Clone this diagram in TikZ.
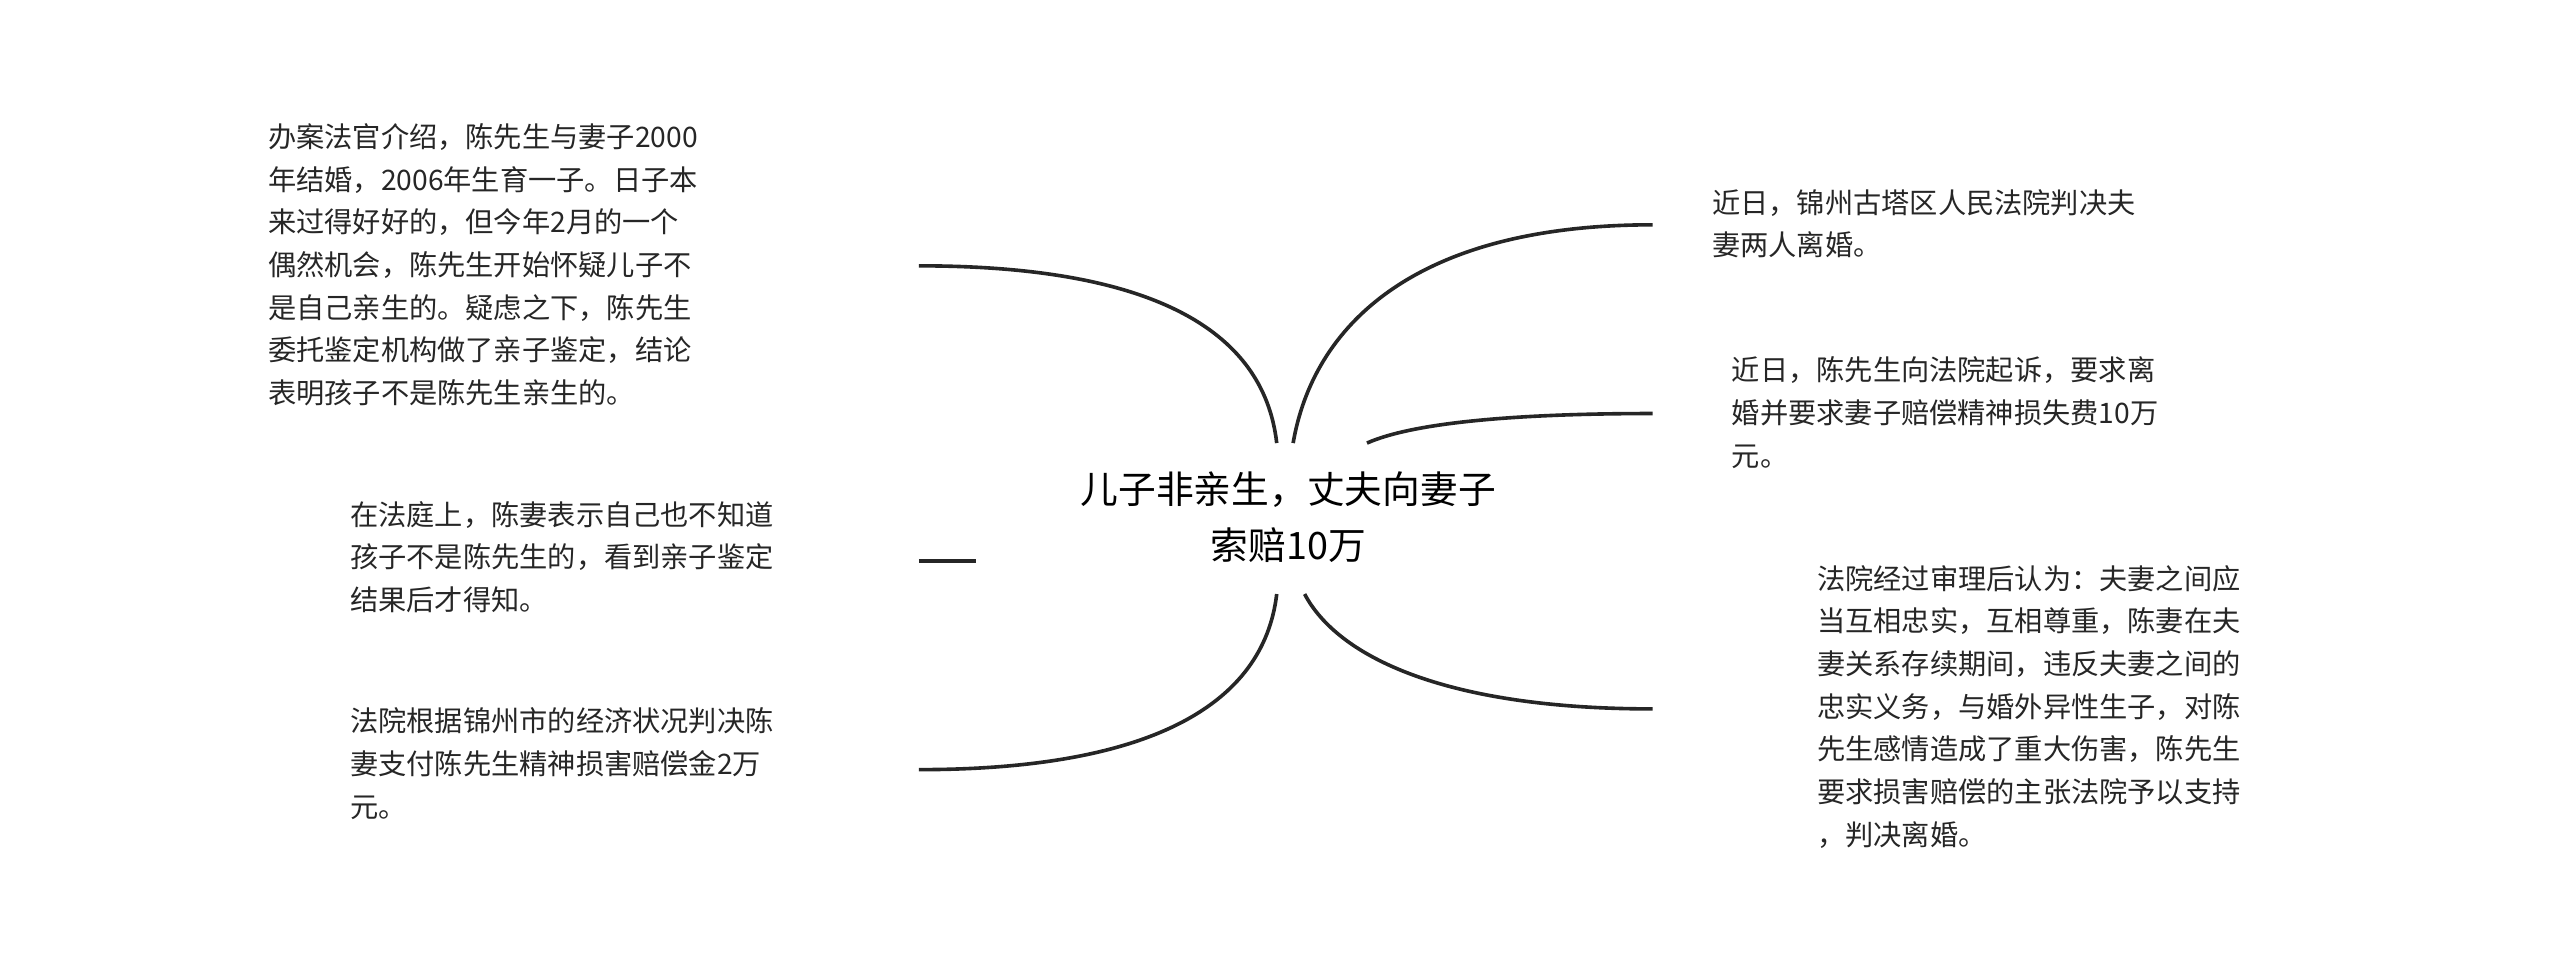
\documentclass[tikz,border=0pt]{standalone}
\usepackage{fontspec}
\setmainfont{Noto Sans CJK SC}
\begin{document}
\begin{tikzpicture}[x=0.5pt,y=-0.5pt,
  txt/.style={anchor=north west,inner sep=0pt,align=left,font=\fontsize{8.6}{13}\selectfont,text=black!85},
  br/.style={draw=black!85,line width=1.1pt}]
\useasboundingbox[fill=white] (0,0) rectangle (1560,592);
\node[inner sep=0pt,align=center,font=\fontsize{11.5}{17}\selectfont] (c) at (785,315) {儿子非亲生，丈夫向妻子\\索赔10万};
\node[txt] (t1) at (163,75) {办案法官介绍，陈先生与妻子2000\\年结婚，2006年生育一子。日子本\\来过得好好的，但今年2月的一个\\偶然机会，陈先生开始怀疑儿子不\\是自己亲生的。疑虑之下，陈先生\\委托鉴定机构做了亲子鉴定，结论\\表明孩子不是陈先生亲生的。};
\node[txt] (t2) at (213,305) {在法庭上，陈妻表示自己也不知道\\孩子不是陈先生的，看到亲子鉴定\\结果后才得知。};
\node[txt] (t3) at (213,431) {法院根据锦州市的经济状况判决陈\\妻支付陈先生精神损害赔偿金2万\\元。};
\node[txt] (t4) at (1043,115) {近日，锦州古塔区人民法院判决夫\\妻两人离婚。};
\node[txt] (t5) at (1055,217) {近日，陈先生向法院起诉，要求离\\婚并要求妻子赔偿精神损失费10万\\元。};
\node[txt] (t6) at (1107,344) {法院经过审理后认为：夫妻之间应\\当互相忠实，互相尊重，陈妻在夫\\妻关系存续期间，违反夫妻之间的\\忠实义务，与婚外异性生子，对陈\\先生感情造成了重大伤害，陈先生\\要求损害赔偿的主张法院予以支持\\，判决离婚。};
\coordinate (a1) at (560,162); \coordinate (b1) at (778,270);
\coordinate (a2) at (560,342); \coordinate (b2) at (595,342);
\coordinate (a3) at (560,469); \coordinate (b3) at (778,362);
\coordinate (a4) at (1007,137); \coordinate (b4) at (788,270);
\coordinate (a5) at (1007,252); \coordinate (b5) at (833,270);
\coordinate (a6) at (1007,432); \coordinate (b6) at (795,362);
\draw[br] (a1) .. controls (700,162) and (770,200) .. (b1);
\draw[br] (a2) -- (b2);
\draw[br] (a3) .. controls (700,469) and (770,430) .. (b3);
\draw[br] (a4) .. controls (860,137) and (800,200) .. (b4);
\draw[br] (a5) .. controls (920,252) and (860,258) .. (b5);
\draw[br] (a6) .. controls (880,432) and (815,400) .. (b6);
\end{tikzpicture}
\end{document}
